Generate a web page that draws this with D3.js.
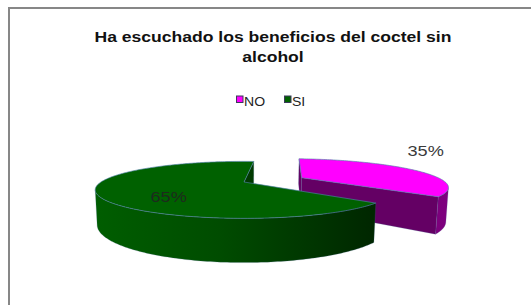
<!DOCTYPE html>
<html>
<head>
<meta charset="utf-8">
<script src="https://cdn.jsdelivr.net/npm/d3@7"></script>
<style>
  body { margin: 0; background: #fff; }
  svg { display: block; font-family: "Liberation Sans", Arial, sans-serif; }
</style>
</head>
<body>
<svg id="chart" width="531" height="305"></svg>
<script>
// data
const categories = ["NO", "SI"];
const values = [35, 65];
const pctLabels = ["35%", "65%"];
const titleLines = ["Ha escuchado  los beneficios del coctel sin", "alcohol"];
const explode = [0.455, 0];

const topColors = ["#ff00ff", "#006100"];
const cutColors = ["#640064", "#003a00"];
const legendColors = ["#ff00ff", "#006100"];

const svg = d3.select("#chart");
const rad = d => d * Math.PI / 180;

// chart frame (runs off the right and bottom of the picture)
svg.append("rect")
  .attr("x", 9).attr("y", 8)
  .attr("width", 560).attr("height", 330)
  .attr("fill", "#fff")
  .attr("stroke", "#878787")
  .attr("stroke-width", 2);

// text is drawn a bit wider than the font, like the original picture
function stretch(sel, k) {
  sel.each(function () {
    const w = this.getComputedTextLength();
    d3.select(this).attr("textLength", w * k).attr("lengthAdjust", "spacingAndGlyphs");
  });
}

// title
svg.selectAll("text.title")
  .data(titleLines)
  .enter().append("text")
  .attr("class", "title")
  .attr("x", 273)
  .attr("y", (d, i) => 42 + i * 20)
  .attr("text-anchor", "middle")
  .attr("font-size", 15)
  .attr("font-weight", "bold")
  .attr("fill", "#111")
  .text(d => d)
  .call(stretch, 1.17);

// legend
const legend = svg.append("g").attr("transform", "translate(236,94)");
const legX = d3.scaleOrdinal().domain(categories).range([0, 48]);
const legItem = legend.selectAll("g")
  .data(categories)
  .enter().append("g")
  .attr("transform", d => `translate(${legX(d)},0)`);
legItem.append("rect")
  .attr("x", 0.5).attr("y", 2)
  .attr("width", 6.5).attr("height", 6.5)
  .attr("fill", (d, i) => legendColors[i])
  .attr("stroke", "#3a3a5a")
  .attr("stroke-width", 1);
legItem.append("text")
  .attr("x", 8).attr("y", 11.5)
  .attr("font-size", 13)
  .attr("fill", "#222")
  .text(d => d)
  .call(stretch, 1.08);

// 3D pie projection (perspective camera, tilted down)
const S = 143, cx = 244, cy = 182;
const elev = rad(10.6), cosE = Math.cos(elev), sinE = Math.sin(elev);
const D = 3.56, H = 0.235;
const cam = [0, D * sinE, D * cosE];

function proj(x, y, z) {
  const zv = z * cosE + y * sinE;
  const yv = y * cosE - z * sinE;
  const s = D / (D - zv);
  return [cx + S * x * s, cy - S * yv * s];
}
function visible(n, p) {
  return n[0] * (cam[0] - p[0]) + n[1] * (cam[1] - p[1]) + n[2] * (cam[2] - p[2]) > 0;
}
const line = d3.line();

const pie = d3.pie().sort(null).startAngle(rad(5)).endAngle(rad(365));
const arcs = pie(values);

// gradients for the curved sides
const defs = svg.append("defs");
const sideStops = [
  [["0%", "#760076"], ["100%", "#800080"]],
  [["0%", "#005e00"], ["45%", "#004c00"], ["100%", "#002600"]]
];
sideStops.forEach((stops, i) => {
  const g = defs.append("linearGradient")
    .attr("id", "side" + i)
    .attr("gradientUnits", "userSpaceOnUse")
    .attr("x1", i === 0 ? 420 : 92).attr("x2", i === 0 ? 450 : 376)
    .attr("y1", 0).attr("y2", 0);
  stops.forEach(s => g.append("stop").attr("offset", s[0]).attr("stop-color", s[1]));
});

const pieG = svg.append("g");

arcs.forEach((a, i) => {
  const mid = (a.startAngle + a.endAngle) / 2;
  const ox = explode[i] * Math.sin(mid), oz = -explode[i] * Math.cos(mid);
  const rim = (ang, y) => [ox + Math.sin(ang), y, oz - Math.cos(ang)];
  const ctr = y => [ox, y, oz];
  const g = pieG.append("g");

  // cut faces
  [[a.startAngle, -1], [a.endAngle, 1]].forEach(([ang, sgn]) => {
    const n = sgn < 0 ? [-Math.cos(ang), 0, -Math.sin(ang)] : [Math.cos(ang), 0, Math.sin(ang)];
    const p = [ox + 0.5 * Math.sin(ang), -H / 2, oz - 0.5 * Math.cos(ang)];
    if (!visible(n, p)) return;
    const pts = [ctr(0), rim(ang, 0), rim(ang, -H), ctr(-H)].map(q => proj(...q));
    g.append("path")
      .attr("d", line(pts) + "Z")
      .attr("fill", cutColors[i])
      .attr("stroke", "#4a6a9a").attr("stroke-width", 0.4).attr("stroke-opacity", 0.6);
  });

  // curved side, only the parts that face the camera
  const steps = Math.max(8, Math.round((a.endAngle - a.startAngle) / rad(1)));
  const runs = [];
  let cur = null;
  for (let k = 0; k < steps; k++) {
    const t0 = a.startAngle + (a.endAngle - a.startAngle) * k / steps;
    const t1 = a.startAngle + (a.endAngle - a.startAngle) * (k + 1) / steps;
    const tm = (t0 + t1) / 2;
    const vis = visible([Math.sin(tm), 0, -Math.cos(tm)], rim(tm, -H / 2));
    if (vis) {
      if (!cur) { cur = [t0, t1]; runs.push(cur); } else cur[1] = t1;
    } else cur = null;
  }
  runs.forEach(([t0, t1]) => {
    const n = Math.max(2, Math.round((t1 - t0) / rad(1)));
    const angs = d3.range(n + 1).map(k => t0 + (t1 - t0) * k / n);
    const pts = angs.map(t => proj(...rim(t, 0)))
      .concat(angs.slice().reverse().map(t => proj(...rim(t, -H))));
    g.append("path")
      .attr("d", line(pts) + "Z")
      .attr("fill", `url(#side${i})`)
      .attr("stroke", "#4a6a9a").attr("stroke-width", 0.4).attr("stroke-opacity", 0.5);
  });

  // top face
  const n = Math.max(2, Math.round((a.endAngle - a.startAngle) / rad(1)));
  const topPts = [proj(...ctr(0))].concat(
    d3.range(n + 1).map(k => proj(...rim(a.startAngle + (a.endAngle - a.startAngle) * k / n, 0))));
  g.append("path")
    .attr("d", line(topPts) + "Z")
    .attr("fill", topColors[i])
    .attr("stroke", "#4f7fa8").attr("stroke-width", 0.8).attr("stroke-opacity", 0.8);
});

// percentage labels
const labelPos = arcs.map((a, i) => {
  const mid = (a.startAngle + a.endAngle) / 2;
  const ox = explode[i] * Math.sin(mid), oz = -explode[i] * Math.cos(mid);
  if (i === 0) {
    const p = proj(ox + Math.sin(mid), 0, oz - Math.cos(mid));
    return [p[0] + 14, p[1] - 19];
  }
  const p = proj(ox + 0.55 * Math.sin(mid), 0, oz - 0.55 * Math.cos(mid));
  return [p[0] + 2, p[1] + 9];
});
svg.selectAll("text.pct")
  .data(pctLabels)
  .enter().append("text")
  .attr("class", "pct")
  .attr("x", (d, i) => labelPos[i][0])
  .attr("y", (d, i) => labelPos[i][1])
  .attr("dy", "0.35em")
  .attr("text-anchor", "middle")
  .attr("font-size", 15.5)
  .attr("fill", (d, i) => i === 0 ? "#3a3a3a" : "#1e2a1e")
  .text(d => d)
  .call(stretch, 1.17);
</script>
</body>
</html>
